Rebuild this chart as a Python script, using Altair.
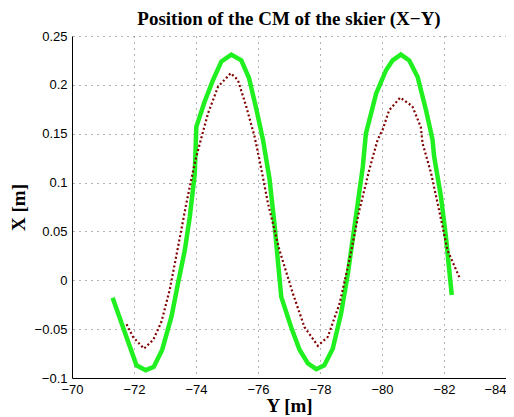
import altair as alt
import pandas as pd

# Green curve (Y [m], X [m])
green_y = [-71.31, -72.08, -72.38, -72.64, -72.91, -73.21, -73.42, -73.64, -73.80, -73.96,
           -74.01, -74.28, -74.55, -74.82, -75.14, -75.46, -75.71, -75.94, -76.16, -76.37,
           -76.53, -76.75, -77.07, -77.34, -77.61, -77.88, -78.14, -78.41, -78.68, -78.90,
           -79.05, -79.21, -79.38, -79.48, -79.81, -80.13, -80.34, -80.61, -80.88, -81.15,
           -81.42, -81.63, -81.68, -81.90, -82.06, -82.25]
green_x = [-0.018, -0.087, -0.092, -0.0885, -0.071, -0.037, -0.003, 0.031, 0.065, 0.109,
           0.157, 0.183, 0.205, 0.224, 0.231, 0.225, 0.207, 0.176, 0.144, 0.104,
           0.058, -0.017, -0.048, -0.071, -0.085, -0.091, -0.087, -0.070, -0.034, 0.007,
           0.041, 0.077, 0.116, 0.150, 0.191, 0.215, 0.225, 0.231, 0.225, 0.208,
           0.174, 0.144, 0.127, 0.086, 0.045, -0.015]

# Dark red dotted curve
red_y = [-71.76, -71.97, -72.32, -72.62, -72.89, -73.15, -73.42, -73.69, -73.96, -74.14,
         -74.39, -74.71, -75.12, -75.35, -75.62, -75.89, -76.05, -76.32, -76.69, -77.12,
         -77.50, -77.93, -78.25, -78.63, -78.95, -79.27, -79.59, -79.86, -80.02, -80.23,
         -80.59, -80.98, -81.25, -81.31, -81.58, -81.84, -82.11, -82.51]
red_x = [-0.045, -0.058, -0.070, -0.061, -0.042, -0.010, 0.034, 0.079, 0.120, 0.142,
         0.171, 0.198, 0.212, 0.205, 0.178, 0.147, 0.123, 0.079, 0.031, -0.013,
         -0.048, -0.067, -0.058, -0.024, 0.021, 0.072, 0.113, 0.144, 0.154, 0.174,
         0.187, 0.178, 0.157, 0.140, 0.110, 0.072, 0.031, 0.002]

x_ticks = [-70, -72, -74, -76, -78, -80, -82, -84]
y_ticks = [-0.1, -0.05, 0, 0.05, 0.1, 0.15, 0.2, 0.25]

green = pd.DataFrame({"Y": green_y, "X": green_x, "i": range(len(green_y))})
red = pd.DataFrame({"Y": red_y, "X": red_x, "i": range(len(red_y))})

xenc = alt.X("Y:Q",
             scale=alt.Scale(domain=[-84, -70], reverse=True, nice=False, zero=False),
             axis=alt.Axis(values=x_ticks, format="d", title="Y [m]", labelFlush=False,
                           labelAlign={"condition": {"test": "datum.value <= -84", "value": "right"},
                                       "value": "center"},
                           titleX=217, titleY=27, titleBaseline="middle",
                           titleAnchor="middle", titleAlign="center"))
yenc = alt.Y("X:Q",
             scale=alt.Scale(domain=[-0.1, 0.25], nice=False, zero=False),
             axis=alt.Axis(values=y_ticks, format="~g", title="X [m]", labelFlush=False,
                           titleX=-54, titleY=171, titleBaseline="middle",
                           titleAlign="center", titleAngle=-90))

g = alt.Chart(green).mark_line(color="#20F020", strokeWidth=4.5, strokeJoin="miter").encode(
    x=xenc, y=yenc, order="i:Q")
r = alt.Chart(red).mark_line(color="#800000", strokeWidth=2.2, strokeDash=[2, 2.4]).encode(
    x="Y:Q", y="X:Q", order="i:Q")

chart = (g + r).properties(
    width=434, height=342,
    title=alt.TitleParams("Position of the CM of the skier (X\u2212Y)",
                          font="Liberation Serif", fontSize=19, fontWeight="bold",
                          color="black", offset=1, anchor="middle"),
    autosize=alt.AutoSizeParams(type="none"),
    padding={"left": 64, "top": 28, "right": 0, "bottom": 37},
).configure_view(stroke=None).configure_axis(
    grid=True, gridDash=[1, 5], gridColor="#666666", gridWidth=1,
    domainColor="black", domainWidth=1,
    tickSize=0, labelFont="Liberation Sans", labelFontSize=13, labelColor="black",
    labelPadding=5,
    titleFont="Liberation Serif", titleFontSize=19, titleFontWeight="bold", titleColor="black",
)

chart.save("out.html", embed_options={"renderer": "svg", "actions": False})
